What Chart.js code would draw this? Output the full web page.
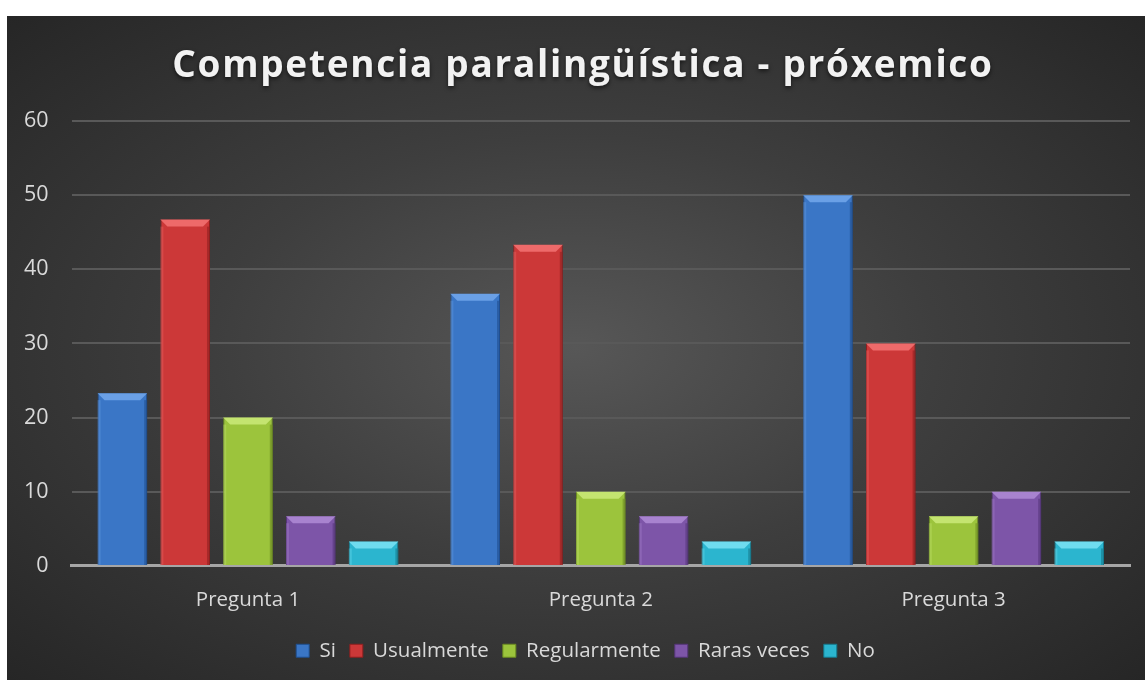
<!DOCTYPE html>
<html>
<head>
<meta charset="utf-8">
<script src="https://cdn.jsdelivr.net/npm/chart.js@4"></script>
<style>
  html, body { margin: 0; padding: 0; background: #ffffff; }
  #wrap {
    position: absolute; left: 7px; top: 16px; width: 1138px; height: 664px;
    background: radial-gradient(ellipse at 50% 50%, #575757 0%, #3e3e3e 45%, #262626 100%);
  }
</style>
</head>
<body>
<div id="wrap"><canvas id="chart"></canvas></div>
<script>
// Datos
const categories = ['Pregunta 1', 'Pregunta 2', 'Pregunta 3'];
const seriesNames = ['Si', 'Usualmente', 'Regularmente', 'Raras veces', 'No'];
const siValues = [23.3, 36.7, 50];
const usualmenteValues = [46.7, 43.3, 30];
const regularmenteValues = [20, 10, 6.7];
const rarasVecesValues = [6.7, 6.7, 10];
const noValues = [3.3, 3.3, 3.3];
const yTicks = [0, 10, 20, 30, 40, 50, 60];
const titleText = 'Competencia paralingüística - próxemico';

const palette = ['#3a76c6', '#cc3838', '#9cc43c', '#7d55a8', '#2bb5cf'];
const lighter = ['#6aa0e6', '#ee6a6a', '#c4e470', '#a883cf', '#6fdcef'];
const darker  = ['#1f4f8f', '#8e1f1f', '#6c8c22', '#553679', '#16798c'];

// Título con espaciado entre letras y sombra suave
const titlePlugin = {
    id: 'spacedTitle',
    afterLayout(chart) {
        // la leyenda del original está algo desplazada a la derecha
        if (chart.legend) { chart.legend.left += 20; chart.legend.right += 20; }
    },
    afterDraw(chart) {
        const ctx = chart.ctx;
        ctx.save();
        ctx.font = 'bold 37px "Open Sans"';
        ctx.letterSpacing = '1.7px';
        ctx.fillStyle = '#f2f2f2';
        ctx.shadowColor = 'rgba(0,0,0,0.6)';
        ctx.shadowBlur = 4;
        ctx.shadowOffsetY = 2;
        ctx.textAlign = 'center';
        ctx.textBaseline = 'alphabetic';
        ctx.fillText(titleText, chart.width / 2 + 7, 61);
        ctx.restore();
    }
};

// Bisel estilo Office sobre cada barra
const bevelPlugin = {
    id: 'bevel',
    afterDatasetsDraw(chart) {
        const ctx = chart.ctx;
        chart.data.datasets.forEach((ds, di) => {
            chart.getDatasetMeta(di).data.forEach(bar => {
                const l = bar.x - bar.width / 2, r = bar.x + bar.width / 2;
                const t = bar.y, b = bar.base;
                const h = Math.min(7, (b - t) / 2);
                ctx.save();
                ctx.fillStyle = lighter[di];
                ctx.beginPath();
                ctx.moveTo(l, t); ctx.lineTo(r, t); ctx.lineTo(r - h, t + h); ctx.lineTo(l + h, t + h);
                ctx.closePath(); ctx.fill();
                ctx.globalAlpha = 0.35;
                ctx.fillStyle = lighter[di];
                ctx.fillRect(l, t + h, 3, b - t - h);
                ctx.globalAlpha = 0.6;
                ctx.fillStyle = darker[di];
                ctx.fillRect(r - 3, t + h, 3, b - t - h);
                ctx.restore();
            });
        });
    }
};

const valuesList = [siValues, usualmenteValues, regularmenteValues, rarasVecesValues, noValues];
const datasets = seriesNames.map((name, i) => ({
    label: name,
    data: valuesList[i],
    backgroundColor: palette[i],
    borderColor: darker[i],
    borderWidth: 1,
    barPercentage: 0.79,
    categoryPercentage: 0.89
}));

new Chart(document.getElementById('chart'), {
    type: 'bar',
    data: { labels: categories, datasets },
    plugins: [bevelPlugin, titlePlugin],
    options: {
        responsive: true,
        maintainAspectRatio: false,
        animation: false,
        layout: { padding: { top: 105, left: -6, right: 15, bottom: 9 } },
        plugins: {
            title: { display: false },
            legend: {
                position: 'bottom',
                labels: {
                    color: '#d9d9d9',
                    font: { family: 'Open Sans', size: 20.5 },
                    boxWidth: 13,
                    boxHeight: 13,
                    padding: 14
                }
            },
            tooltip: { enabled: false }
        },
        scales: {
            x: {
                grid: { display: false },
                border: { color: '#a6a6a6', width: 3 },
                ticks: { color: '#d9d9d9', font: { family: 'Open Sans', size: 20.5 }, padding: 14 }
            },
            y: {
                min: 0, max: 60,
                afterBuildTicks: axis => { axis.ticks = yTicks.map(v => ({ value: v })); },
                grid: { color: '#595959', lineWidth: 2, drawTicks: false },
                border: { display: false },
                ticks: { color: '#d9d9d9', font: { family: 'Open Sans', size: 21.5 }, padding: 23 }
            }
        }
    }
});
</script>
</body>
</html>
